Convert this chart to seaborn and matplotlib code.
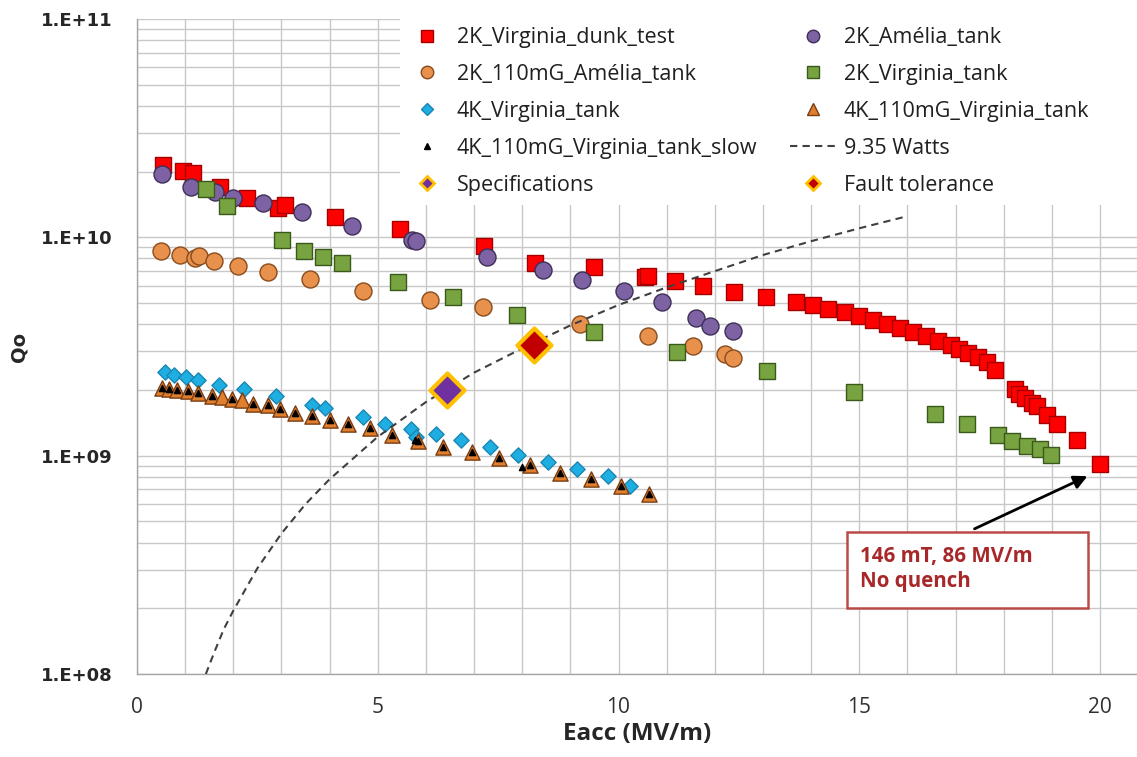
# %% Qo vs Eacc for the cavity tests
import numpy as np
import pandas as pd
import seaborn as sns
import matplotlib.pyplot as plt
from matplotlib.lines import Line2D
from matplotlib.patches import Rectangle
from matplotlib.ticker import FixedLocator, FuncFormatter, LogLocator, NullFormatter

# %% Data
dunk_x = [0.54, 0.96, 1.16, 1.72, 2.28, 2.93, 3.07, 4.11, 5.46, 7.21, 8.27, 9.49, 10.55, 10.61,
          11.17, 11.76, 12.40, 13.06, 13.69, 14.04, 14.35, 14.70, 14.99, 15.29, 15.58, 15.85,
          16.12, 16.39, 16.64, 16.91, 17.07, 17.26, 17.47, 17.65, 17.82, 18.23, 18.32, 18.44,
          18.59, 18.69, 18.90, 19.11, 19.52, 20.0]
dunk_q = [2.15e10, 2.01e10, 1.97e10, 1.70e10, 1.52e10, 1.36e10, 1.41e10, 1.24e10, 1.09e10, 9.15e9,
          7.64e9, 7.33e9, 6.59e9, 6.67e9, 6.32e9, 6.0e9, 5.63e9, 5.35e9, 5.07e9, 4.91e9, 4.71e9,
          4.56e9, 4.37e9, 4.19e9, 4.02e9, 3.85e9, 3.70e9, 3.54e9, 3.36e9, 3.22e9, 3.09e9, 2.96e9,
          2.84e9, 2.69e9, 2.48e9, 2.01e9, 1.92e9, 1.84e9, 1.75e9, 1.68e9, 1.54e9, 1.40e9, 1.18e9,
          9.2e8]

amelia_x = [0.52, 1.12, 1.62, 1.99, 2.62, 3.43, 4.47, 5.71, 5.79, 7.27, 8.43, 9.24, 10.11, 10.90,
            11.61, 11.90, 12.38]
amelia_q = [1.95e10, 1.70e10, 1.61e10, 1.52e10, 1.44e10, 1.31e10, 1.13e10, 9.75e9, 9.64e9, 8.15e9,
            7.10e9, 6.39e9, 5.69e9, 5.07e9, 4.28e9, 3.94e9, 3.74e9]

amelia110_x = [0.50, 0.89, 1.20, 1.29, 1.60, 2.10, 2.72, 3.59, 4.69, 6.09, 7.19, 9.20, 10.61, 11.55,
               12.21, 12.38]
amelia110_q = [8.67e9, 8.32e9, 8.06e9, 8.23e9, 7.80e9, 7.41e9, 6.95e9, 6.46e9, 5.69e9, 5.18e9,
               4.81e9, 4.02e9, 3.54e9, 3.19e9, 2.93e9, 2.81e9]

virginia_x = [1.43, 1.87, 3.01, 3.47, 3.86, 4.26, 5.42, 6.56, 7.89, 9.49, 11.21, 13.08, 14.89, 16.57,
              17.24, 17.88, 18.17, 18.48, 18.75, 18.98]
virginia_q = [1.67e10, 1.39e10, 9.75e9, 8.67e9, 8.15e9, 7.64e9, 6.26e9, 5.35e9, 4.42e9, 3.70e9,
              2.99e9, 2.45e9, 1.96e9, 1.56e9, 1.40e9, 1.25e9, 1.17e9, 1.11e9, 1.07e9, 1.01e9]

virginia4k_x = [0.58, 0.77, 1.02, 1.27, 1.70, 2.22, 2.89, 3.63, 3.90, 4.69, 5.15, 5.69, 5.79, 6.21,
                6.73, 7.33, 7.91, 8.54, 9.14, 9.78, 10.24]
virginia4k_q = [2.41e9, 2.35e9, 2.29e9, 2.23e9, 2.11e9, 2.01e9, 1.87e9, 1.71e9, 1.65e9, 1.51e9,
                1.40e9, 1.32e9, 1.22e9, 1.26e9, 1.18e9, 1.10e9, 1.01e9, 9.32e8, 8.69e8, 8.10e8, 7.29e8]

mg4k_x = [0.52, 0.66, 0.83, 1.06, 1.27, 1.56, 1.77, 1.97, 2.18, 2.41, 2.72, 2.97, 3.28, 3.63, 4.01,
          4.38, 4.84, 5.30, 5.84, 6.36, 6.96, 7.52, 8.16, 8.79, 9.43, 10.05, 10.63]
mg4k_q = [2.04e9, 2.02e9, 1.99e9, 1.97e9, 1.94e9, 1.88e9, 1.86e9, 1.82e9, 1.79e9, 1.73e9, 1.70e9,
          1.64e9, 1.57e9, 1.52e9, 1.46e9, 1.40e9, 1.34e9, 1.24e9, 1.17e9, 1.10e9, 1.04e9, 9.75e8,
          9.09e8, 8.34e8, 7.82e8, 7.24e8, 6.68e8]

slow_x = [0.52, 0.66, 0.83, 1.06, 1.27, 1.56, 1.97, 2.41, 2.72, 2.97, 3.28, 3.63, 4.01, 4.38, 4.84,
          5.30, 5.78, 5.84, 6.36, 6.96, 7.52, 7.99, 8.16, 8.79, 9.43, 10.05, 10.63]
slow_q = [2.04e9, 2.02e9, 1.99e9, 1.97e9, 1.94e9, 1.88e9, 1.82e9, 1.73e9, 1.70e9, 1.64e9, 1.57e9,
          1.52e9, 1.46e9, 1.40e9, 1.34e9, 1.24e9, 1.18e9, 1.17e9, 1.10e9, 1.04e9, 9.75e8, 8.9e8,
          9.09e8, 8.34e8, 7.82e8, 7.24e8, 6.68e8]

watts_x = [1.43, 1.6, 1.8, 2.0, 2.5, 3.0, 3.5, 4.0, 5.0, 6.0, 7.0, 8.0, 9.0, 10.0, 11.0, 12.0, 13.0,
           14.0, 15.0, 16.0]
watts_q = [1.0e8, 1.25e8, 1.6e8, 1.95e8, 3.05e8, 4.4e8, 6.0e8, 7.8e8, 1.22e9, 1.76e9, 2.4e9, 3.1e9,
           3.95e9, 4.9e9, 5.9e9, 7.0e9, 8.3e9, 9.6e9, 1.1e10, 1.25e10]

spec_x, spec_q = [6.44], [2.0e9]
fault_x, fault_q = [8.24], [3.22e9]

x_ticks = [0, 5, 10, 15, 20]
y_ticks = [1e8, 1e9, 1e10, 1e11]

# %% Figure
sns.set_style("white")
plt.rcParams['font.family'] = ['Open Sans', 'DejaVu Sans']

fig = plt.figure(figsize=(11.37, 7.57), dpi=100)
ax = fig.add_axes([137 / 1137, 83 / 757, 1000 / 1137, 655 / 757])

# scatter series: (x, y, marker, size, face, edge)
series = [
    (dunk_x, dunk_q, 's', 140, '#ff0000', '#a50000'),
    (amelia_x, amelia_q, 'o', 150, '#7d63a3', '#3e2f58'),
    (amelia110_x, amelia110_q, 'o', 150, '#e8914d', '#8a4b1c'),
    (virginia_x, virginia_q, 's', 140, '#77a340', '#3a5a1c'),
    (virginia4k_x, virginia4k_q, 'D', 60, '#1eaee2', '#1a86b4'),
    (mg4k_x, mg4k_q, '^', 120, '#e0802f', '#7a3d12'),
    (slow_x, slow_q, '^', 20, '#000000', '#000000'),
]
for i, (xs, qs, mk, sz, fc, ec) in enumerate(series):
    sns.scatterplot(x=xs, y=qs, marker=mk, s=sz, color=fc, edgecolor=ec, linewidth=1,
                    ax=ax, zorder=3 + i * 0.1, legend=False)

sns.lineplot(x=watts_x, y=watts_q, color='#404040', linewidth=1.5, linestyle=(0, (3.5, 2.5)),
             ax=ax, zorder=4, legend=False)

sns.scatterplot(x=spec_x, y=spec_q, marker='D', s=300, color='#7030a0', edgecolor='#ffc000',
                linewidth=3, ax=ax, zorder=5, legend=False)
sns.scatterplot(x=fault_x, y=fault_q, marker='D', s=300, color='#c00000', edgecolor='#ffc000',
                linewidth=3, ax=ax, zorder=5, legend=False)

# axes, scales
ax.set_yscale('log')
ax.set_xlim(0, 1000 / 48.15)
ax.set_ylim(1e8, 1e11)
ax.xaxis.set_major_locator(FixedLocator(x_ticks))
ax.xaxis.set_minor_locator(FixedLocator(np.arange(0, 21)))
ax.yaxis.set_major_locator(FixedLocator(y_ticks))
ax.yaxis.set_minor_locator(LogLocator(base=10, subs=np.arange(2, 10)))
ax.yaxis.set_minor_formatter(NullFormatter())
ax.yaxis.set_major_formatter(FuncFormatter(lambda v, p: f"1.E+{int(round(np.log10(v))):02d}"))

ax.grid(which='both', axis='both', color='#c8c8c8', linewidth=1.0)
ax.set_axisbelow(True)
for s in ['top', 'right']:
    ax.spines[s].set_visible(False)
for s in ['left', 'bottom']:
    ax.spines[s].set_color('#a6a6a6')
    ax.spines[s].set_linewidth(1.0)

ax.tick_params(axis='both', which='major', length=6.5, color='#a6a6a6', direction='out')
ax.tick_params(axis='both', which='minor', length=0)
ax.tick_params(axis='x', labelsize=15, pad=10, labelcolor='#303030')
ax.tick_params(axis='y', labelsize=13, pad=11)
for lab in ax.get_yticklabels():
    lab.set_fontfamily('DejaVu Sans')
    lab.set_fontweight('bold')

ax.set_xlabel('Eacc (MV/m)', fontsize=17.5, fontweight='bold')
ax.xaxis.set_label_coords(0.5, -(722 - 674) / 655, transform=ax.transAxes)
ax.set_ylabel('Qo', fontsize=14, fontweight='bold', family='DejaVu Sans')
ax.yaxis.set_label_coords(-(137 - 28) / 1000, 0.5)

# white area behind the legend
ax.add_patch(Rectangle((0.263, 0.716), 0.74, 0.3, transform=ax.transAxes, facecolor='white',
                       edgecolor='none', zorder=2.5, clip_on=False))

# legend, row-wise order like the original
h = {
    'dunk': Line2D([], [], marker='s', ms=8, ls='none', mfc='#ff0000', mec='#a50000'),
    'amelia': Line2D([], [], marker='o', ms=9, ls='none', mfc='#7d63a3', mec='#3e2f58'),
    'amelia110': Line2D([], [], marker='o', ms=9, ls='none', mfc='#e8914d', mec='#8a4b1c'),
    'virginia': Line2D([], [], marker='s', ms=8, ls='none', mfc='#77a340', mec='#3a5a1c'),
    'v4k': Line2D([], [], marker='D', ms=6, ls='none', mfc='#1eaee2', mec='#1a86b4'),
    'mg4k': Line2D([], [], marker='^', ms=9, ls='none', mfc='#e0802f', mec='#7a3d12'),
    'slow': Line2D([], [], marker='^', ms=4, ls='none', mfc='black', mec='black'),
    'watts': Line2D([], [], color='#404040', lw=1.5, ls=(0, (3.5, 2.5))),
    'spec': Line2D([], [], marker='D', ms=7, ls='none', mfc='#7030a0', mec='#ffc000', mew=2),
    'fault': Line2D([], [], marker='D', ms=7, ls='none', mfc='#c00000', mec='#ffc000', mew=2),
}
col1 = [('dunk', '2K_Virginia_dunk_test'), ('amelia110', '2K_110mG_Amélia_tank'),
        ('v4k', '4K_Virginia_tank'), ('slow', '4K_110mG_Virginia_tank_slow'),
        ('spec', 'Specifications')]
col2 = [('amelia', '2K_Amélia_tank'), ('virginia', '2K_Virginia_tank'),
        ('mg4k', '4K_110mG_Virginia_tank'), ('watts', '9.35 Watts'),
        ('fault', 'Fault tolerance')]
handles = [h[k] for k, _ in col1 + col2]
labels = [l for _, l in col1 + col2]
leg = fig.legend(handles, labels, ncol=2, loc='upper left', bbox_to_anchor=(388 / 1137, 1 - 12 / 757),
                 frameon=False, fontsize=15.5, handlelength=2.2, handletextpad=0.3,
                 columnspacing=1.5, labelspacing=0.74, borderpad=0.2)
for t in leg.get_texts():
    t.set_color('#202020')

# annotation box with arrow
ax.add_patch(Rectangle(((847 - 137) / 1000, (674 - 608) / 655), 241 / 1000, 76 / 655,
                       transform=ax.transAxes, facecolor='white', edgecolor='#b94a48',
                       linewidth=1.8, zorder=6))
ax.text((860 - 137) / 1000, (674 - 569) / 655, '146 mT, 86 MV/m\nNo quench', transform=ax.transAxes,
        ha='left', va='center', fontsize=14.8, fontweight='bold', color='#a8282a',
        linespacing=1.25, zorder=7)
ax.annotate('', xy=((1090 - 137) / 1000, (674 - 475) / 655), xycoords='axes fraction',
            xytext=((972 - 137) / 1000, (674 - 530) / 655), textcoords='axes fraction',
            arrowprops=dict(arrowstyle='-|>', color='black', lw=2, mutation_scale=20), zorder=7)

fig.savefig('out.png', dpi=100)
